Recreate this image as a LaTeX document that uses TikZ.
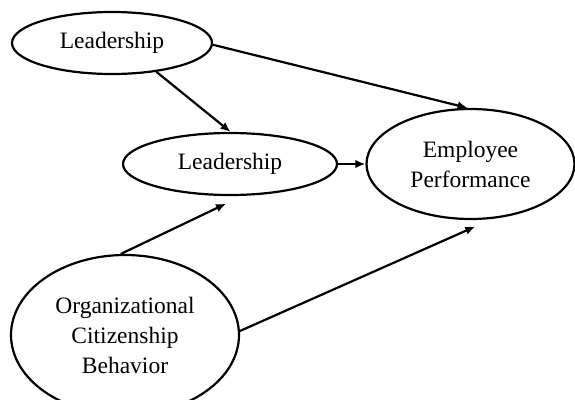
\documentclass[tikz,border=0pt]{standalone}
\usepackage{fontspec}
\setmainfont{Liberation Serif}
\usetikzlibrary{shapes.geometric,arrows.meta}
\begin{document}
\begin{tikzpicture}[x=1pt,y=-1pt,
  ell/.style={ellipse, draw, line width=2.2pt, inner sep=0pt, align=center,
              font=\fontsize{23.5}{30}\selectfont},
  arr/.style={line width=2.2pt, -{Latex[length=10pt,width=8.5pt]}}]
\useasboundingbox (0,0) rectangle (575,399);
\node[ell, minimum width=200pt, minimum height=62pt] (L1) at (112,43) {Leadership};
\node[ell, minimum width=214pt, minimum height=62pt] (M) at (230,164) {Leadership};
\node[ell, minimum width=208pt, minimum height=110pt] (EP) at (470.5,164) {Employee\\Performance};
\node[ell, minimum width=228pt, minimum height=160pt] (OCB) at (125,335) {Organizational\\Citizenship\\Behavior};
\draw[arr] (L1.-1) -- (EP.93);
\draw[arr] (L1.-33) -- (M.89);
\draw[arr] (M.east) -- (EP.west |- M.east);
\draw[arr, shorten >=18pt] (OCB.93.5) -- (M.-69.6);
\draw[arr, shorten >=19pt] (OCB.2.5) -- (EP.-68);
\end{tikzpicture}
\end{document}
